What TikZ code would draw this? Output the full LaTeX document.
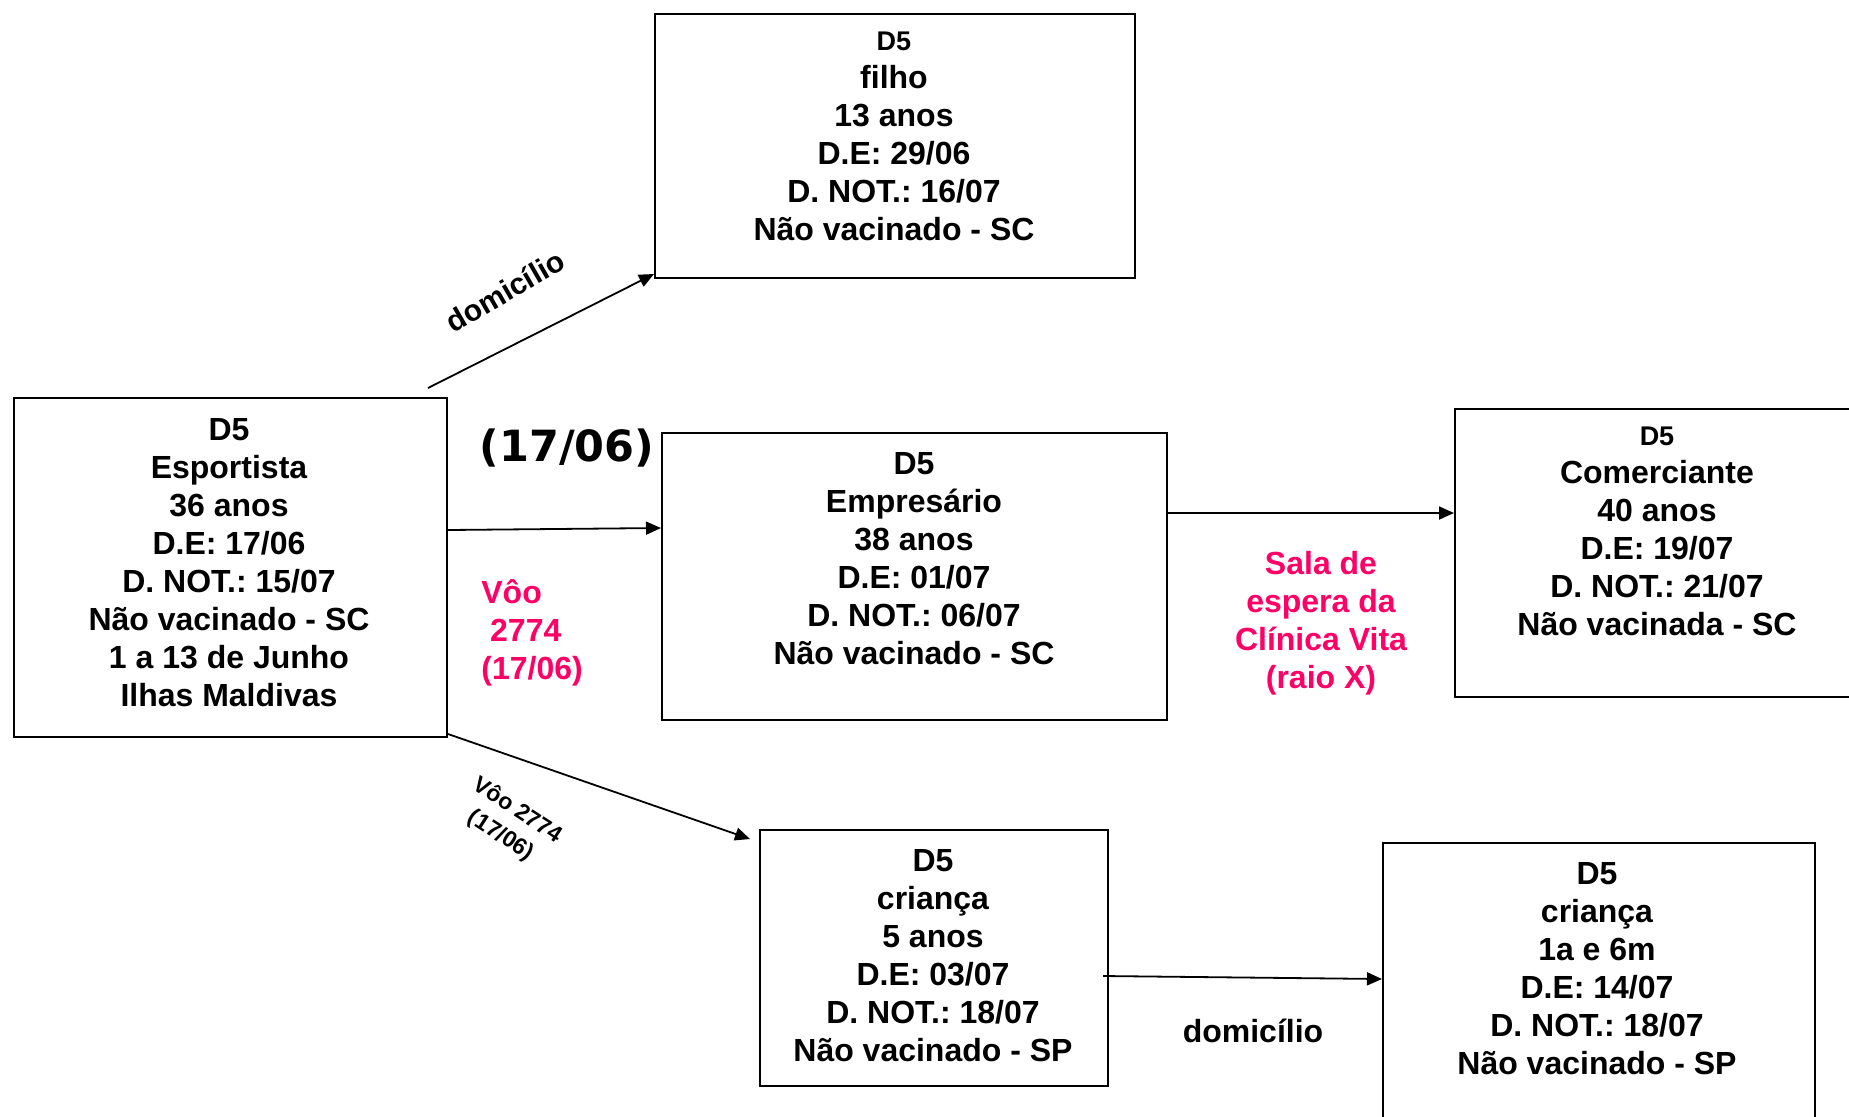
\documentclass[tikz,border=0pt]{standalone}
\usepackage{fontspec}
\setmainfont{Liberation Sans}
\newfontfamily\bigfont{DejaVu Sans}
\usetikzlibrary{arrows.meta}
\definecolor{pinklab}{RGB}{255,0,102}
\frenchspacing
\begin{document}
\begin{tikzpicture}[x=0.5pt,y=-0.5pt,
  box/.style={draw, line width=1pt, inner sep=0pt, anchor=north west},
  btext/.style={align=center, inner sep=0pt, font=\fontsize{16}{19}\selectfont\bfseries},
  conn/.style={line width=0.9pt, -{Triangle[length=7.5pt,width=6.5pt]}},
  pinktext/.style={text=pinklab, inner sep=0pt, font=\fontsize{16}{19}\selectfont\bfseries},
  edgetext/.style={inner sep=0pt, font=\fontsize{15}{17}\selectfont\bfseries},
  flighttext/.style={align=center, inner sep=0pt, font=\fontsize{11.5}{15}\selectfont\bfseries}
]
\clip (0,0) rectangle (1849,1116);
\fill[white] (0,0) rectangle (1849,1116);

% boxes
\node[box, minimum width=216.5pt, minimum height=169.5pt] (A) at (13,397) {};
\node[box, minimum width=240pt, minimum height=132pt] (B) at (654,13) {};
\node[box, minimum width=252.5pt, minimum height=143.5pt] (C) at (661,432) {};
\node[box, minimum width=203pt, minimum height=144pt] (D) at (1454,408) {};
\node[box, minimum width=174pt, minimum height=128pt] (E) at (759,829) {};
\node[box, minimum width=216pt, minimum height=144pt] (F) at (1382,842) {};

% box texts
\node[btext] (At) at (229,563) {D5\\Esportista\\36 anos\\D.E: 17/06\\D. NOT.: 15/07\\N\~ao vacinado - SC\\1 a 13 de Junho\\Ilhas Maldivas};
\node[btext] (Bt) at (894,136) {{\fontsize{13.5}{19}\selectfont D5}\\filho\\13 anos\\D.E: 29/06\\D. NOT.: 16/07\\N\~ao vacinado - SC};
\node[btext] (Ct) at (914,559) {D5\\Empresário\\38 anos\\D.E: 01/07\\D. NOT.: 06/07\\N\~ao vacinado - SC};
\node[btext] (Dt) at (1657,531) {{\fontsize{13.5}{19}\selectfont D5}\\Comerciante\\40 anos\\D.E: 19/07\\D. NOT.: 21/07\\N\~ao vacinada - SC};
\node[btext] (Et) at (933,956) {D5\\criança\\5 anos\\D.E: 03/07\\D. NOT.: 18/07\\N\~ao vacinado - SP};
\node[btext] (Ft) at (1597,969) {D5\\criança\\1a e 6m\\D.E: 14/07\\D. NOT.: 18/07\\N\~ao vacinado - SP};

% connectors
\coordinate (aB) at (428,388);
\draw[conn] (aB) -- ([yshift=2.5pt]B.south west);
\draw[conn] ([yshift=18.75pt]A.east) -- ([yshift=24.25pt]C.west);
\draw[conn] ([yshift=31.75pt]C.east) -- ([yshift=20pt]D.west);
\draw[conn] ([yshift=2pt]A.south east) -- ([xshift=-4.5pt,yshift=-5pt]E.north west);
\draw[conn] ([xshift=-3pt,yshift=-9pt]E.east) -- ([yshift=4pt]F.west);

% labels
\node[edgetext, rotate=30] (l1) at (505,291) {domicílio};
\node[flighttext, rotate=-33] (l2) at (509,823) {Vôo 2774\\(17/06)};
\node[edgetext, font=\fontsize{16}{19}\selectfont\bfseries] (l3) at (1253,1031) {domicílio};
\node[inner sep=0pt, font=\bigfont\bfseries\fontsize{21.5}{24}\selectfont] (l4) at (567,448) {(17/06)};
\node[pinktext, align=left, anchor=west] (l5) at (481,633) {Vôo\\\hspace*{4.4pt}2774\\(17/06)};
\node[pinktext, align=center] (l6) at (1321,623) {Sala de\\espera da\\Clínica Vita\\(raio X)};
\end{tikzpicture}
\end{document}
